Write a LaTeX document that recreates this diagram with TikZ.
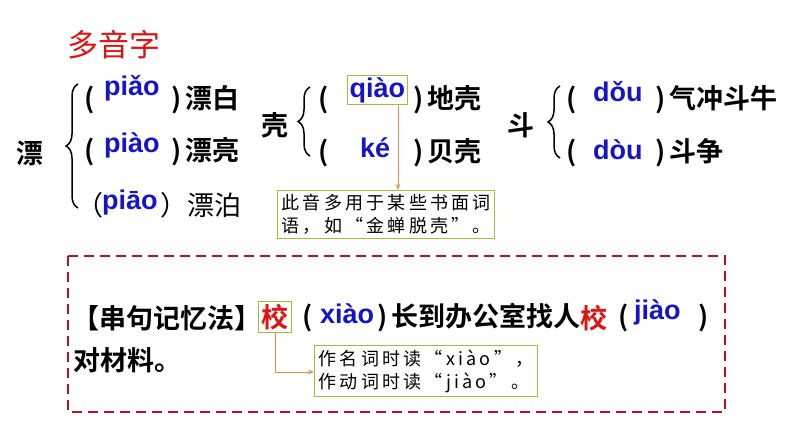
\documentclass[tikz,border=0pt]{standalone}
\usepackage{fontspec}
\setmainfont{Liberation Sans}
\newfontfamily\cjk{Noto Sans CJK SC}
\newfontfamily\cjkb{Noto Sans CJK SC Bold}
\newfontfamily\cjkn[LetterSpace=18]{Noto Sans CJK SC}
\usetikzlibrary{decorations.pathreplacing,arrows.meta}
\definecolor{pyblue}{RGB}{20,20,200}
\definecolor{hred}{RGB}{220,20,20}
\definecolor{dred}{RGB}{180,20,30}
\definecolor{boxg}{RGB}{160,190,60}
\definecolor{arrO}{RGB}{235,140,70}
\tikzset{
 hz/.style={font=\cjkb\fontsize{27}{27}\selectfont,inner sep=0pt,anchor=west},
 hzn/.style={font=\cjk\fontsize{27}{27}\selectfont,inner sep=0pt,anchor=west},
 py/.style={font=\bfseries\fontsize{27}{27}\selectfont,text=pyblue,inner sep=0pt,anchor=west},
 br/.style={decorate,decoration={brace,amplitude=12pt,mirror},line width=1.5pt},
 note/.style={draw=boxg,line width=1.3pt,font=\cjkn\fontsize{18}{23}\selectfont,align=left,inner sep=4pt,anchor=north west},
 pbox/.style={draw=boxg,line width=1.3pt,inner sep=2pt},
 oarr/.style={draw=arrO,line width=1pt,-{Stealth[length=6pt]}}
}
\begin{document}
\begin{tikzpicture}[x=1pt,y=-1pt]
\useasboundingbox (0,0) rectangle (794,447);
\node[font=\cjk\fontsize{31}{31}\selectfont,text=hred,inner sep=0pt,anchor=west] (t) at (67,45) {多音字};
% 漂
\node[hz] (p) at (16,153) {漂};
\draw[br] (78,84) -- (78,208);
\node[hz] (p1a) at (84,100) {(};
\node[py] (p1) at (104,88) {piǎo};
\node[hz] (p1b) at (171,100) {)\,漂白};
\node[hz] (p2a) at (84,152) {(};
\node[py] (p2) at (104,145) {piào};
\node[hz] (p2b) at (171,152) {)\,漂亮};
\node[hzn] (p3a) at (76,205) {（};
\node[py] (p3) at (102,203) {piāo};
\node[hzn] (p3b) at (160,205) {）漂泊};
% 壳
\node[hz] (k) at (261,125) {壳};
\draw[br] (310,87) -- (310,156);
\node[hz] (k1a) at (318,100) {(};
\node[py,pbox] (k1) at (347,90) {qiào};
\node[hz] (k1b) at (413,100) {)\,地壳};
\node[hz] (k2a) at (318,153) {(};
\node[py] (k2) at (360,148) {ké};
\node[hz] (k2b) at (413,153) {)\,贝壳};
\node[note] (n1) at (277,190) {此音多用于某些书面词\\语，如“金蝉脱壳”。};
\draw[oarr] (k1.south -| 398,0) -- (398,190);
% 斗
\node[hz] (d) at (507,125) {斗};
\draw[br] (560,86) -- (560,158);
\node[hz] (d1a) at (566,100) {(};
\node[py] (d1) at (593,92) {dǒu};
\node[hz] (d1b) at (655,100) {)\,气冲斗牛};
\node[hz] (d2a) at (566,153) {(};
\node[py] (d2) at (593,150) {dòu};
\node[hz] (d2b) at (655,153) {)\,斗争};
% dashed box
\draw[dred,line width=2pt,dash pattern=on 10pt off 6pt] (68,256) rectangle (725,412);
\node[hz] (m1) at (72,318) {【串句记忆法】};
\node[hz,text=hred,pbox,inner sep=3pt] (x1) at (258,317) {校};
\node[hz] (x1a) at (302,318) {(};
\node[py] (x1p) at (320,314) {xiào};
\node[hz] (x1b) at (377,318) {)\,长到办公室找人};
\node[hz,text=hred] (x2) at (580,318) {校};
\node[hz] (x2a) at (618,318) {(};
\node[py] (x2p) at (634,312) {jiào};
\node[hz] (x2b) at (698,318) {)};
\node[hz] (m2) at (73,360) {对材料。};
\node[note] (n2) at (314,345) {作名词时读“xiào”，\\作动词时读“jiào”。};
\draw[oarr] (x1.south) |- (n2.west |- 0,372);
\end{tikzpicture}
\end{document}
